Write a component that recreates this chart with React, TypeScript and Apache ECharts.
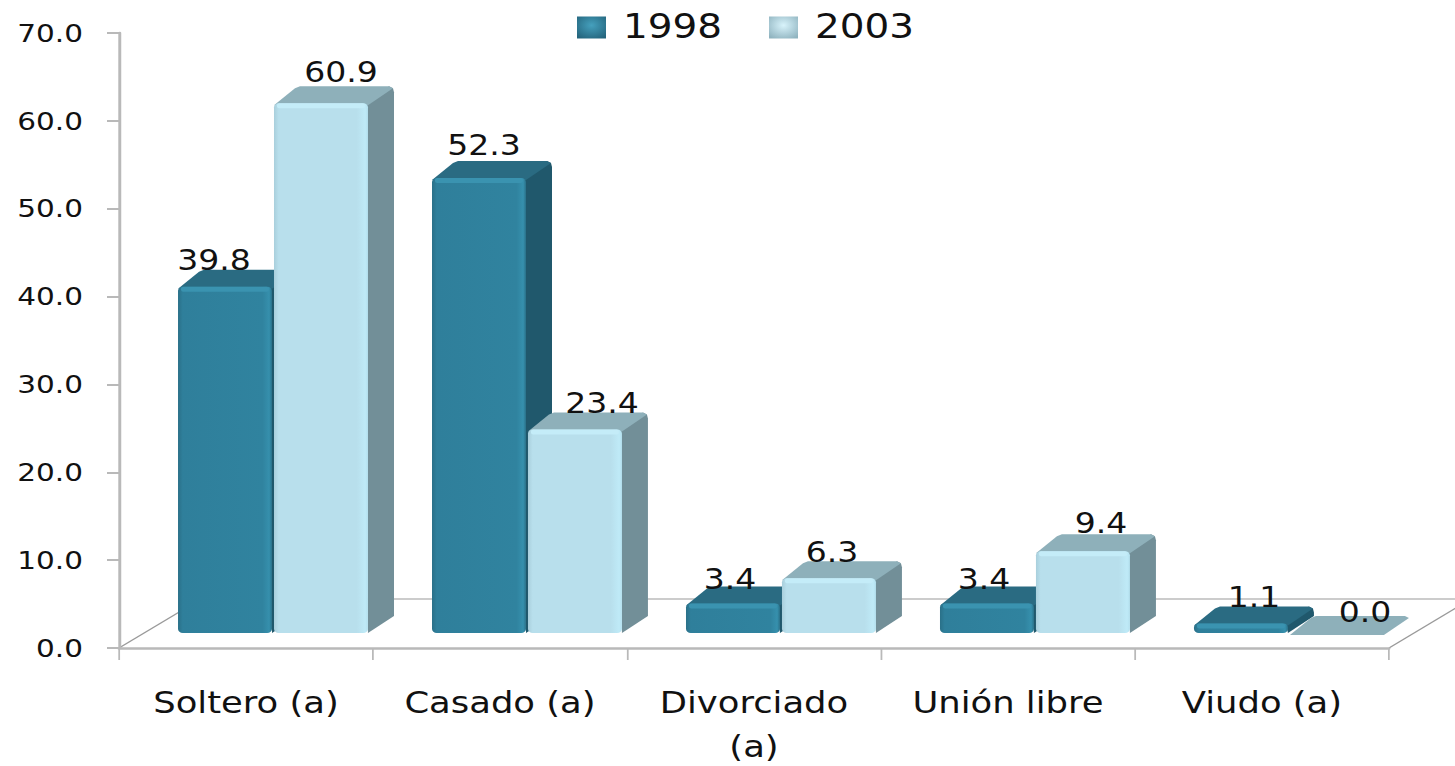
import React, { useEffect, useRef } from "react";
import * as echarts from "echarts";

const categories = ["Soltero (a)", "Casado (a)", "Divorciado (a)", "Unión libre", "Viudo (a)"];
const values1998 = [39.8, 52.3, 3.4, 3.4, 1.1];
const values2003 = [60.9, 23.4, 6.3, 9.4, 0.0];
const yearNames = ["1998", "2003"];

// The reference is a picture stretched sideways, so the whole chart is too.
const SX = 1.18;
const X = (px: number) => px / SX;
const FONT = "'DejaVu Sans', Verdana, sans-serif";

const DEPTH_X = X(26);
const DEPTH_Y = 17;
const PLANE_X = X(27);
const PLANE_Y = 15;
const HEIGHT_FACTOR = 0.99;

const labelNudgeX = [
  [-11, 5, -3, -3, 13],
  [20, 27, 3, 18, 28],
];
const labelNudgeY = [
  [-26, -33, -24, -24, -26],
  [-31, -26, -26, -28, -21],
];

const dark = {
  top: "#2a6b82",
  side: "#20586c",
  stops: [
    [0, "#2a7088"],
    [0.05, "#2f7f9b"],
    [0.9, "#30839f"],
    [0.97, "#3690ad"],
    [1, "#2a7189"],
  ],
  rim: "#3a93b0",
};
const light = {
  top: "#8eb0ba",
  side: "#728f98",
  stops: [
    [0, "#a9cfdc"],
    [0.05, "#b8dfec"],
    [0.88, "#b8dfec"],
    [0.97, "#bfeaf7"],
    [1, "#b4e0ee"],
  ],
  rim: "#c4ecf8",
};

function barRenderer(seriesIndex: number) {
  const palette = seriesIndex === 0 ? dark : light;
  return (params: any, api: any) => {
    const cat = api.value(0);
    const val = api.value(1);
    const bottom = api.coord([cat, 0]);
    const top = api.coord([cat, val]);
    const band = api.size([1, 0])[0];
    const w = band * 0.37;
    const gap = X(1);
    const cx = bottom[0] + PLANE_X;
    const l = seriesIndex === 0 ? cx - w - gap : cx + gap;
    const r = l + w;
    const yBase = bottom[1] - PLANE_Y;
    const yTop = yBase - (bottom[1] - top[1]) * HEIGHT_FACTOR;
    const h = yBase - yTop;
    const c = X(5);
    const children: any[] = [];
    if (h > 0) {
      children.push({
        type: "polygon",
        shape: {
          points: [
            [r - X(2), yTop],
            [r + DEPTH_X - c, yTop - DEPTH_Y],
            [r + DEPTH_X - X(1), yTop - DEPTH_Y + 2],
            [r + DEPTH_X, yTop - DEPTH_Y + 6],
            [r + DEPTH_X, yBase - DEPTH_Y],
            [r, yBase],
          ],
        },
        style: { fill: palette.side },
      });
    }
    children.push({
      type: "polygon",
      shape: {
        points: [
          [l, yTop + 2],
          [l + DEPTH_X - c, yTop - DEPTH_Y + 2],
          [l + DEPTH_X, yTop - DEPTH_Y],
          [r + DEPTH_X - c, yTop - DEPTH_Y],
          [r + DEPTH_X - X(1), yTop - DEPTH_Y + 2],
          [r, yTop + 2],
        ],
      },
      style: { fill: palette.top },
    });
    if (h > 0) {
      children.push({
        type: "rect",
        shape: { x: l, y: yTop, width: w, height: h, r: 4 },
        style: {
          fill: new echarts.graphic.LinearGradient(
            0,
            0,
            1,
            0,
            palette.stops.map(([offset, color]) => ({ offset: offset as number, color: color as string }))
          ),
        },
      });
      children.push({
        type: "rect",
        shape: { x: l + X(3), y: yTop, width: w - X(6), height: Math.min(5, h), r: 2 },
        style: { fill: palette.rim },
      });
    }
    children.push({
      type: "text",
      style: {
        text: val.toFixed(1),
        x: (l + r) / 2 + X(labelNudgeX[seriesIndex][params.dataIndex]),
        y: yTop + labelNudgeY[seriesIndex][params.dataIndex],
        fill: "#111",
        font: `28px ${FONT}`,
        align: "center",
        verticalAlign: "middle",
      },
    });
    return { type: "group", children };
  };
}

const axisGrey = "#b9b9b9";

export default function App() {
  const ref = useRef<HTMLDivElement>(null);
  useEffect(() => {
    const chart = echarts.init(ref.current!, undefined, { renderer: "svg" });
    chart.setOption({
      animation: false,
      backgroundColor: "#ffffff",
      grid: { left: X(119), right: X(66), top: 33, bottom: 118, containLabel: false, outerBoundsMode: "none" },
      legend: {
        left: X(577),
        top: 11,
        padding: 0,
        itemWidth: X(29),
        itemHeight: 22,
        itemGap: X(47),
        selectedMode: false,
        textStyle: { fontFamily: FONT, fontSize: 33, lineHeight: 30, color: "#111", padding: [0, 0, 0, X(11)] },
        data: [
          {
            name: yearNames[0],
            icon: "rect",
            itemStyle: {
              color: new echarts.graphic.RadialGradient(0.5, 0.4, 0.7, [
                { offset: 0, color: "#45a0bd" },
                { offset: 1, color: "#24647c" },
              ]),
            },
          },
          {
            name: yearNames[1],
            icon: "rect",
            itemStyle: {
              color: new echarts.graphic.RadialGradient(0.5, 0.4, 0.7, [
                { offset: 0, color: "#d8f3fb" },
                { offset: 1, color: "#8fb3bf" },
              ]),
            },
          },
        ],
      },
      xAxis: {
        type: "category",
        data: categories,
        axisLine: { lineStyle: { color: axisGrey, width: 2.5 } },
        axisTick: { show: true, alignWithLabel: false, length: 12, lineStyle: { color: axisGrey, width: 1.5 } },
        axisLabel: {
          fontFamily: FONT,
          fontSize: 30,
          color: "#111",
          margin: 33,
          lineHeight: 44,
          interval: 0,
          formatter: (v: string) => (v.length > 12 ? v.replace(" ", "\n") : v),
        },
      },
      yAxis: {
        type: "value",
        min: 0,
        max: 70,
        interval: 10,
        splitLine: { show: false },
        axisLine: { show: true, lineStyle: { color: axisGrey, width: 2.5 } },
        axisTick: { show: true, length: X(12), lineStyle: { color: axisGrey, width: 2 } },
        axisLabel: {
          fontFamily: FONT,
          fontSize: 25,
          color: "#111",
          margin: X(36),
          formatter: (v: number) => v.toFixed(1),
        },
      },
      graphic: [
        {
          type: "line",
          z: 0,
          shape: { x1: X(201), y1: 599, x2: X(1455), y2: 599 },
          style: { stroke: "#9a9a9a", lineWidth: 1.2 },
        },
        {
          type: "line",
          z: 0,
          shape: { x1: X(119), y1: 648, x2: X(201), y2: 599 },
          style: { stroke: "#9a9a9a", lineWidth: 1.2 },
        },
        {
          type: "line",
          z: 0,
          shape: { x1: X(1389), y1: 648, x2: X(1471), y2: 599 },
          style: { stroke: "#9a9a9a", lineWidth: 1.2 },
        },
      ],
      series: [values1998, values2003].map((vals, s) => ({
        type: "custom",
        name: yearNames[s],
        z: 3 + s,
        clip: false,
        encode: { x: 0, y: 1 },
        itemStyle: { color: s === 0 ? "#30839f" : "#b8dfec" },
        data: vals.map((v, i) => [i, v]),
        renderItem: barRenderer(s),
      })),
    });
    return () => chart.dispose();
  }, []);
  return (
    <div style={{ position: "fixed", left: 0, top: 0, width: 1455, height: 766, overflow: "hidden", background: "#fff" }}>
      <div
        ref={ref}
        style={{
          width: 1455 / SX,
          height: 766,
          transform: `scaleX(${SX})`,
          transformOrigin: "0 0",
        }}
      />
    </div>
  );
}
